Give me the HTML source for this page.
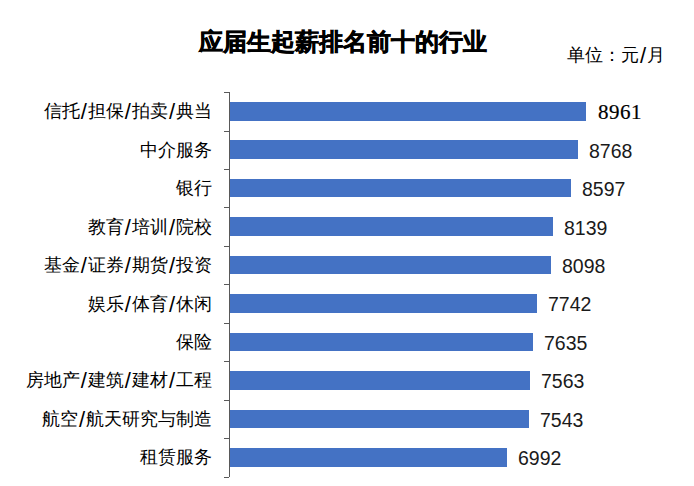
<!DOCTYPE html>
<html><head><meta charset="utf-8"><style>
*{margin:0;padding:0;box-sizing:border-box}
html,body{width:694px;height:486px;overflow:hidden;background:#fff}
body{position:relative;font-family:"Liberation Sans",sans-serif;color:#000}
.t{position:absolute;white-space:nowrap;line-height:1}
.title{left:199px;top:30px;font-size:24px;font-weight:bold;color:#000;-webkit-text-stroke:0.6px #000}
.unit{left:567px;top:45.6px;font-size:18px;color:#000}
.lab{position:absolute;right:482px;font-size:18px;line-height:1;white-space:nowrap;color:#000;text-align:right}
.bar{position:absolute;left:229px;background:#4472c4}
.val{position:absolute;font-size:19.5px;line-height:1;white-space:nowrap;color:#1a1a1a}
.ax{position:absolute;left:229px;width:1px;background:#595959}
.tk{position:absolute;left:224px;width:5px;height:1px;background:#595959}
i{font-style:normal;font-size:22px;margin:0 1px;line-height:0;position:relative;top:2px}
</style></head><body>
<div class="t title">应届生起薪排名前十的行业</div>
<div class="t unit">单位：元<i>/</i>月</div>

<div class="tk" style="top:92.1px"></div>
<div class="tk" style="top:130.5px"></div>
<div class="tk" style="top:169.0px"></div>
<div class="tk" style="top:207.4px"></div>
<div class="tk" style="top:245.9px"></div>
<div class="tk" style="top:284.3px"></div>
<div class="tk" style="top:322.7px"></div>
<div class="tk" style="top:361.2px"></div>
<div class="tk" style="top:399.6px"></div>
<div class="tk" style="top:438.1px"></div>
<div class="tk" style="top:476.5px"></div>
<div class="bar" style="top:102.0px;height:18.7px;width:357.0px"></div>
<div class="val" style="left:598.0px;top:102.4px;font-family:'Liberation Serif',serif;font-size:21px;letter-spacing:0.5px;-webkit-text-stroke:0.2px #000;color:#000;">8961</div>
<div class="lab" style="top:102.3px">信托<i>/</i>担保<i>/</i>拍卖<i>/</i>典当</div>
<div class="bar" style="top:140.4px;height:18.7px;width:349.0px"></div>
<div class="val" style="left:589.0px;top:141.7px;">8768</div>
<div class="lab" style="top:140.8px">中介服务</div>
<div class="bar" style="top:178.8px;height:18.7px;width:342.0px"></div>
<div class="val" style="left:582.0px;top:180.1px;">8597</div>
<div class="lab" style="top:179.2px">银行</div>
<div class="bar" style="top:217.3px;height:18.7px;width:324.0px"></div>
<div class="val" style="left:564.0px;top:218.5px;">8139</div>
<div class="lab" style="top:217.6px">教育<i>/</i>培训<i>/</i>院校</div>
<div class="bar" style="top:255.7px;height:18.7px;width:322.0px"></div>
<div class="val" style="left:562.0px;top:257.0px;">8098</div>
<div class="lab" style="top:256.1px">基金<i>/</i>证券<i>/</i>期货<i>/</i>投资</div>
<div class="bar" style="top:294.2px;height:18.7px;width:308.0px"></div>
<div class="val" style="left:548.0px;top:295.4px;">7742</div>
<div class="lab" style="top:294.5px">娱乐<i>/</i>体育<i>/</i>休闲</div>
<div class="bar" style="top:332.6px;height:18.7px;width:304.0px"></div>
<div class="val" style="left:544.0px;top:333.9px;">7635</div>
<div class="lab" style="top:333.0px">保险</div>
<div class="bar" style="top:371.0px;height:18.7px;width:301.0px"></div>
<div class="val" style="left:541.0px;top:372.3px;">7563</div>
<div class="lab" style="top:371.4px">房地产<i>/</i>建筑<i>/</i>建材<i>/</i>工程</div>
<div class="bar" style="top:409.5px;height:18.7px;width:300.0px"></div>
<div class="val" style="left:540.0px;top:410.7px;">7543</div>
<div class="lab" style="top:409.8px">航空<i>/</i>航天研究与制造</div>
<div class="bar" style="top:447.9px;height:18.7px;width:278.0px"></div>
<div class="val" style="left:518.0px;top:449.2px;">6992</div>
<div class="lab" style="top:448.3px">租赁服务</div>
<div class="ax" style="top:92.1px;height:385.4px"></div>
</body></html>
